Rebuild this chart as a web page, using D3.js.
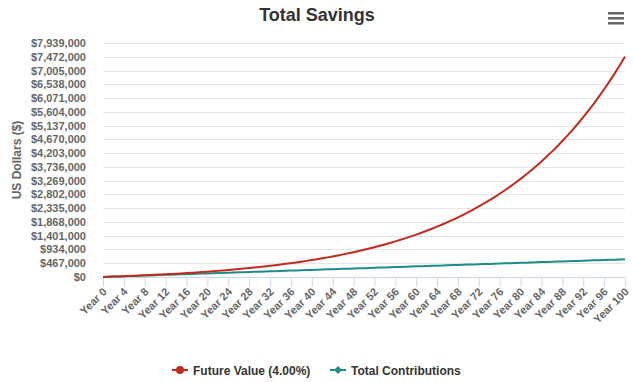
<!DOCTYPE html>
<html><head><meta charset="utf-8">
<script src="https://cdn.jsdelivr.net/npm/d3@7"></script>
<style>body{margin:0;background:#fff;}svg{display:block;font-family:"Liberation Sans",Arial,sans-serif;}</style>
</head><body>
<script>
const years = d3.range(0, 101);
const yearLabels = years.filter(y => y % 4 === 0).map(y => "Year " + y);
const futureValue = [1000,7040,13322,19855,26649,33715,41063,48706,56654,64920,
73517,82458,91756,101426,111483,121942,132820,144133,155898,168134,
180860,194094,207858,222172,237059,252541,268643,285389,302804,320916,
339753,359343,379717,400906,422942,445859,469694,494482,520261,547071,
574954,603952,634110,665475,698094,732018,767298,803990,842150,881836,
923109,966034,1010675,1057102,1105386,1155601,1207825,1262139,1318624,1377369,
1438464,1502002,1568082,1636806,1708278,1782609,1859913,1940310,2023922,2110879,
2201314,2295367,2393182,2494909,2600705,2710734,2825163,2944169,3067936,3196653,
3330520,3469740,3614530,3765111,3921716,4084584,4253968,4430126,4613332,4803865,
5002019,5208100,5422424,5645321,5877134,6118219,6368948,6629706,6900894,7182930,
7476247];
const contributions = [1000,7000,13000,19000,25000,31000,37000,43000,49000,55000,
61000,67000,73000,79000,85000,91000,97000,103000,109000,115000,
121000,127000,133000,139000,145000,151000,157000,163000,169000,175000,
181000,187000,193000,199000,205000,211000,217000,223000,229000,235000,
241000,247000,253000,259000,265000,271000,277000,283000,289000,295000,
301000,307000,313000,319000,325000,331000,337000,343000,349000,355000,
361000,367000,373000,379000,385000,391000,397000,403000,409000,415000,
421000,427000,433000,439000,445000,451000,457000,463000,469000,475000,
481000,487000,493000,499000,505000,511000,517000,523000,529000,535000,
541000,547000,553000,559000,565000,571000,577000,583000,589000,595000,
601000];
const yTicks = [0,467000,934000,1401000,1868000,2335000,2802000,3269000,3736000,4203000,
4670000,5137000,5604000,6071000,6538000,7005000,7472000,7939000];
const seriesNames = ["Future Value (4.00%)", "Total Contributions"];
const colors = ["#c4291c", "#1f8c8c"];

const W = 633, H = 382;
const svg = d3.select("body").append("svg").attr("width", W).attr("height", H);
const x = d3.scaleLinear().domain([0, 100]).range([103, 625]);
const y = d3.scaleLinear().domain([0, 7939000]).range([277, 43]);

// gridlines
svg.append("g").selectAll("line").data(yTicks.slice(1)).join("line")
  .attr("x1", 103).attr("x2", 625)
  .attr("y1", d => Math.round(y(d)) + 0.5).attr("y2", d => Math.round(y(d)) + 0.5)
  .attr("stroke", "#e6e6e6").attr("stroke-width", 1);

// y axis labels
const fmt = d3.format(",");
svg.append("g").selectAll("text").data(yTicks).join("text")
  .attr("x", 86).attr("y", d => y(d) + 4)
  .attr("text-anchor", "end").attr("font-size", 11).attr("font-weight", "bold")
  .attr("fill", "#666").text(d => "$" + fmt(d));

svg.append("text").attr("transform", "translate(21,160) rotate(-90)")
  .attr("text-anchor", "middle").attr("font-size", 12).attr("font-weight", "bold")
  .attr("fill", "#666").text("US Dollars ($)");

// x axis
const xAxis = d3.axisBottom(x).tickValues(years.filter(v => v % 4 === 0))
  .tickSize(9).tickFormat(d => "Year " + d);
const gx = svg.append("g").attr("transform", "translate(0,277.5)").call(xAxis);
gx.select(".domain").attr("stroke", "#ccd6eb").attr("d", "M103,0H625");
gx.selectAll(".tick line").attr("stroke", "#ccd6eb");
gx.selectAll(".tick text").attr("font-size", 11).attr("font-weight", "bold")
  .attr("fill", "#666").attr("font-family", "Liberation Sans, Arial, sans-serif")
  .attr("text-anchor", "end").attr("dy", null).attr("y", 0)
  .attr("transform", "translate(4,15) rotate(-45)");

// lines
const line = d3.line().x((d, i) => x(years[i])).y(d => y(d));
[contributions, futureValue].forEach((s, k) => {
  const c = k === 0 ? colors[1] : colors[0];
  svg.append("path").datum(s).attr("d", line).attr("fill", "none")
    .attr("stroke", c).attr("stroke-width", 2).attr("stroke-linejoin", "round");
});

// title
svg.append("text").attr("x", 317).attr("y", 21).attr("text-anchor", "middle")
  .attr("font-size", 18).attr("font-weight", "bold").attr("fill", "#333").text("Total Savings");

// menu icon
svg.append("g").selectAll("rect").data([0, 1, 2]).join("rect")
  .attr("x", 608).attr("y", d => 12 + d * 5).attr("width", 16).attr("height", 2.5)
  .attr("fill", "#666");

// legend
const legendX = [172, 330];
seriesNames.forEach((n, i) => {
  const g = svg.append("g").attr("transform", `translate(${legendX[i]},370)`);
  g.append("line").attr("x1", 0).attr("x2", 16).attr("y1", 0).attr("y2", 0)
    .attr("stroke", colors[i]).attr("stroke-width", 2);
  if (i === 0) g.append("circle").attr("cx", 8).attr("cy", 0).attr("r", 4).attr("fill", colors[i]);
  else g.append("path").attr("d", "M8,-4L12,0L8,4L4,0Z").attr("fill", colors[i]);
  g.append("text").attr("x", 21).attr("y", 4.5).attr("font-size", 12).attr("font-weight", "bold")
    .attr("fill", "#333").text(n);
});
</script>
</body></html>
